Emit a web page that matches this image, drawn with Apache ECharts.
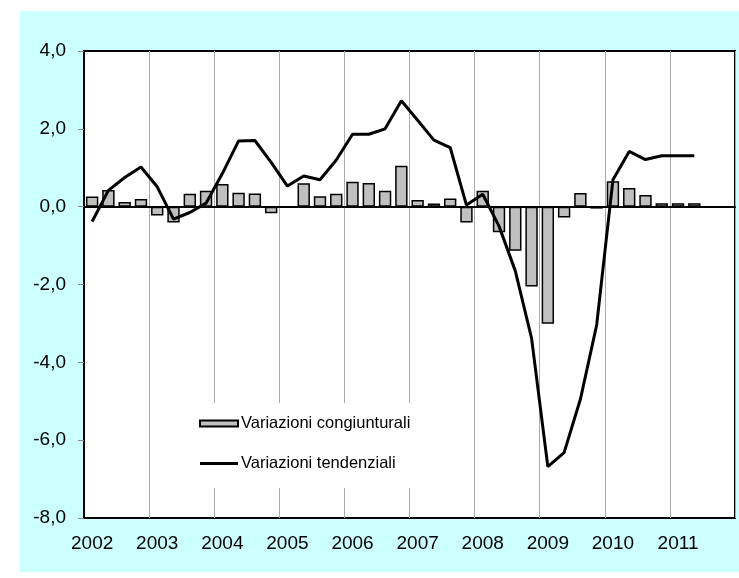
<!DOCTYPE html>
<html>
<head>
<meta charset="utf-8">
<script src="https://cdn.jsdelivr.net/npm/echarts@6/dist/echarts.min.js"></script>
<style>
  html, body { margin: 0; padding: 0; background: #fff; }
  #chart { position: absolute; left: 20px; top: 11px; width: 719px; height: 561px; }
</style>
</head>
<body>
<div id="chart"></div>
<script>
// anni e trimestri (asse x)
var years = ['2002', '2003', '2004', '2005', '2006', '2007', '2008', '2009', '2010', '2011'];
var quarters = ['I', 'II', 'III', 'IV'];

// variazioni congiunturali (barre), 2002 T1 - 2011 T2
var congiunturali = [
  0.26, 0.43, 0.12, 0.20,
  -0.23, -0.41, 0.33, 0.41,
  0.58, 0.36, 0.34, -0.17,
  -0.02, 0.60, 0.27, 0.33,
  0.64, 0.61, 0.41, 1.05,
  0.17, 0.08, 0.21, -0.41,
  0.41, -0.66, -1.13, -2.05,
  -3.01, -0.28, 0.35, -0.05,
  0.65, 0.48, 0.30, 0.09,
  0.09, 0.09
];

// variazioni tendenziali (linea)
var tendenziali = [
  -0.38, 0.42, 0.75, 1.02,
  0.51, -0.32, -0.15, 0.09,
  0.85, 1.69, 1.70, 1.14,
  0.53, 0.79, 0.69, 1.20,
  1.86, 1.86, 2.00, 2.72,
  2.22, 1.71, 1.52, 0.04,
  0.32, -0.50, -1.65, -3.38,
  -6.68, -6.32, -4.95, -3.04,
  0.69, 1.42, 1.21, 1.31,
  1.31, 1.31
];

var categories = [];
years.forEach(function (y) {
  quarters.forEach(function (q) { categories.push(y + ' ' + q); });
});

var font = "'Liberation Sans', Arial, sans-serif";
var myChart = echarts.init(document.getElementById('chart'));

var option = {
  backgroundColor: '#ccffff',
  animation: false,
  textStyle: { fontFamily: font },
  grid: {
    left: 64,
    right: 4,
    top: 40,
    bottom: 54,
    show: true,
    backgroundColor: '#fff',
    borderColor: '#000',
    borderWidth: 2
  },
  legend: {
    orient: 'vertical',
    left: 170,
    top: 392,
    padding: [12, 60, 16, 9],
    itemGap: 23,
    itemWidth: 38,
    itemHeight: 6,
    backgroundColor: '#fff',
    textStyle: { fontSize: 16.5, color: '#000', fontFamily: font, padding: [0, 0, 0, -2] },
    data: [
      { name: 'Variazioni congiunturali', icon: 'rect' },
      // solo linea, senza marcatore
      { name: 'Variazioni tendenziali', icon: 'path://M0,0H38V3H0Z', itemStyle: { color: '#000', borderWidth: 0 } }
    ]
  },
  xAxis: {
    type: 'category',
    data: categories,
    axisLine: { show: true, lineStyle: { color: '#000', width: 2 } },
    axisTick: { show: false },
    axisLabel: {
      interval: 0,
      margin: 16,
      fontSize: 19,
      color: '#000',
      formatter: function (v, i) { return i % 4 === 0 ? v.split(' ')[0] : ''; }
    },
    splitLine: {
      show: true,
      interval: function (i) { return i % 4 === 0; },
      lineStyle: { color: '#aaaaaa', width: 1 }
    }
  },
  yAxis: {
    type: 'value',
    min: -8,
    max: 4,
    interval: 2,
    axisLine: { show: true, lineStyle: { color: '#000', width: 2 } },
    axisTick: { show: true, length: 6, lineStyle: { color: '#888' } },
    axisLabel: {
      margin: 18,
      fontSize: 19,
      color: '#000',
      formatter: function (v) { return v.toFixed(1).replace('.', ','); }
    },
    splitLine: { show: false }
  },
  series: [
    {
      name: 'Variazioni congiunturali',
      type: 'bar',
      data: congiunturali,
      barCategoryGap: '24%',
      itemStyle: { color: '#c0c0c0', borderColor: '#000', borderWidth: 1.5 },
      markLine: {
        silent: true,
        symbol: 'none',
        label: { show: false },
        lineStyle: { color: '#000', width: 1.5, type: 'solid' },
        data: [{ yAxis: 0 }]
      }
    },
    {
      name: 'Variazioni tendenziali',
      type: 'line',
      data: tendenziali,
      showSymbol: false,
      symbol: 'none',
      lineStyle: { color: '#000', width: 3 },
      itemStyle: { color: '#000' },
      z: 3
    }
  ]
};

myChart.setOption(option);
</script>
</body>
</html>
